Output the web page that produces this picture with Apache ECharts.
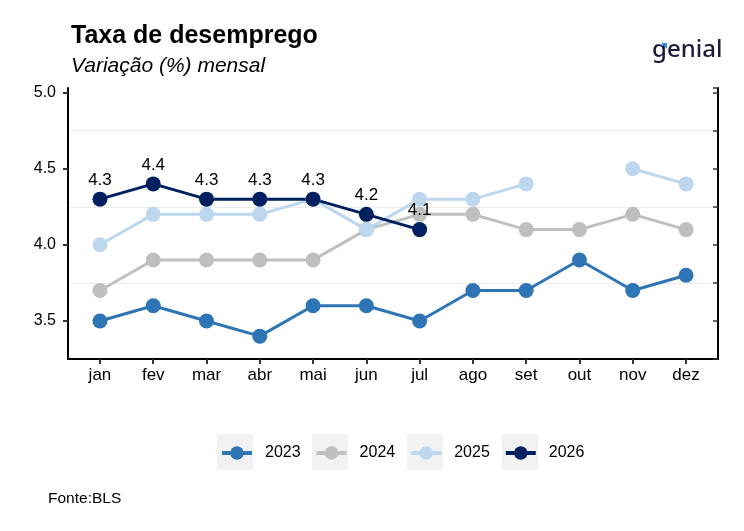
<!DOCTYPE html>
<html>
<head>
<meta charset="utf-8">
<script src="https://cdn.jsdelivr.net/npm/echarts@6/dist/echarts.min.js"></script>
<style>
  html, body { margin: 0; padding: 0; background: #fff; }
  #chart { width: 744px; height: 531px; }
</style>
</head>
<body>
<div id="chart"></div>
<script>
// meses (eixo x)
const months = ['jan', 'fev', 'mar', 'abr', 'mai', 'jun', 'jul', 'ago', 'set', 'out', 'nov', 'dez'];
const yTicks = [3.5, 4.0, 4.5, 5.0];

// taxa de desemprego por ano
const y2023 = [3.5, 3.6, 3.5, 3.4, 3.6, 3.6, 3.5, 3.7, 3.7, 3.9, 3.7, 3.8];
const y2024 = [3.7, 3.9, 3.9, 3.9, 3.9, 4.1, 4.2, 4.2, 4.1, 4.1, 4.2, 4.1];
const y2025 = [4.0, 4.2, 4.2, 4.2, 4.3, 4.1, 4.3, 4.3, 4.4, null, 4.5, 4.4];
const y2026 = [4.3, 4.4, 4.3, 4.3, 4.3, 4.2, 4.1];

const years = ['2023', '2024', '2025', '2026'];
const colors = ['#2e75b6', '#bfbfbf', '#bdd7ee', '#002060'];

const toPairs = arr => arr.map((v, i) => [i, v]);
const monthIdx = months.map((m, i) => i);

const chart = echarts.init(document.getElementById('chart'));

const font = 'Liberation Sans, Arial, sans-serif';

const makeSeries = (name, data, color, withLabel) => ({
    name: name,
    type: 'line',
    xAxisIndex: 0,
    yAxisIndex: 0,
    data: toPairs(data),
    connectNulls: false,
    symbol: 'circle',
    symbolSize: 15,
    showSymbol: true,
    lineStyle: { color: color, width: 3 },
    itemStyle: { color: color },
    emphasis: { disabled: true },
    label: {
        show: withLabel,
        position: 'top',
        distance: 3,
        color: '#000',
        fontFamily: font,
        fontSize: 17,
        formatter: p => p.value[1].toFixed(1)
    },
    z: 2
});

// caixas cinzas atrás dos ícones da legenda
const legendBoxes = [217, 312, 407, 502].map(x => ({
    type: 'rect',
    shape: { x: x, y: 434, width: 36, height: 36 },
    style: { fill: '#f2f2f2' },
    z: -1
}));

const option = {
    animation: false,
    backgroundColor: '#fff',
    color: colors,
    title: {
        text: 'Taxa de desemprego',
        subtext: 'Variação (%) mensal',
        left: 66,
        top: 19,
        itemGap: 7,
        textStyle: { fontFamily: font, fontSize: 25, fontWeight: 'bold', color: '#000' },
        subtextStyle: { fontFamily: font, fontSize: 21, fontStyle: 'italic', color: '#000' }
    },
    grid: { left: 68, right: 26, top: 88, bottom: 172 },
    legend: {
        top: 445,
        left: 220,
        padding: 0,
        itemWidth: 30,
        itemHeight: 17,
        itemGap: 14,
        lineStyle: { width: 4 },
        textStyle: { fontFamily: font, fontSize: 16, color: '#000', padding: [0, 0, 0, 8] },
        data: years
    },
    xAxis: {
        type: 'value',
        min: -0.6,
        max: 11.6,
        axisLine: { show: true, onZero: false, lineStyle: { color: '#000', width: 2 } },
        axisTick: { show: true, length: 5, customValues: monthIdx, lineStyle: { color: '#333', width: 2 } },
        axisLabel: {
            customValues: monthIdx,
            formatter: v => months[Math.round(v)],
            color: '#000', fontFamily: font, fontSize: 17, margin: 8
        },
        splitLine: { show: false }
    },
    yAxis: [{
        type: 'value',
        min: 3.25,
        max: 5.03,
        axisLine: { show: true, onZero: false, lineStyle: { color: '#000', width: 2 } },
        axisTick: { show: true, length: 5, customValues: yTicks, lineStyle: { color: '#333', width: 2 } },
        axisLabel: {
            customValues: yTicks,
            formatter: v => v.toFixed(1),
            color: '#000', fontFamily: font, fontSize: 16, margin: 12
        },
        splitLine: { show: false }
    }, {
        type: 'value',
        position: 'right',
        min: 3.25,
        max: 5.03,
        interval: 0.25,
        axisLine: { show: true, onZero: false, lineStyle: { color: '#000', width: 2 } },
        axisTick: { show: true, inside: true, length: 5, lineStyle: { color: '#333', width: 1.5 } },
        axisLabel: { show: false },
        splitLine: { show: true, showMaxLine: false, lineStyle: { color: ['#ececec', 'rgba(0,0,0,0)'], width: 1 } }
    }],
    graphic: [
        ...legendBoxes,
        {
            type: 'text',
            left: 48,
            top: 491,
            style: { text: 'Fonte:BLS', fontFamily: font, fontSize: 15.5, fill: '#000' }
        },
        {
            type: 'text',
            left: 652,
            top: 38,
            style: { text: 'genial', fontFamily: 'Noto Sans, sans-serif', fontSize: 24, fontWeight: 500, fill: '#1b1b3c' }
        },
        {
            type: 'polygon',
            shape: { points: [[661, 43], [667, 43], [667, 49]] },
            style: { fill: '#2f8fe0' }
        }
    ],
    series: [
        makeSeries('2023', y2023, colors[0], false),
        makeSeries('2024', y2024, colors[1], false),
        makeSeries('2025', y2025, colors[2], false),
        makeSeries('2026', y2026, colors[3], true)
    ]
};

chart.setOption(option);
</script>
</body>
</html>
